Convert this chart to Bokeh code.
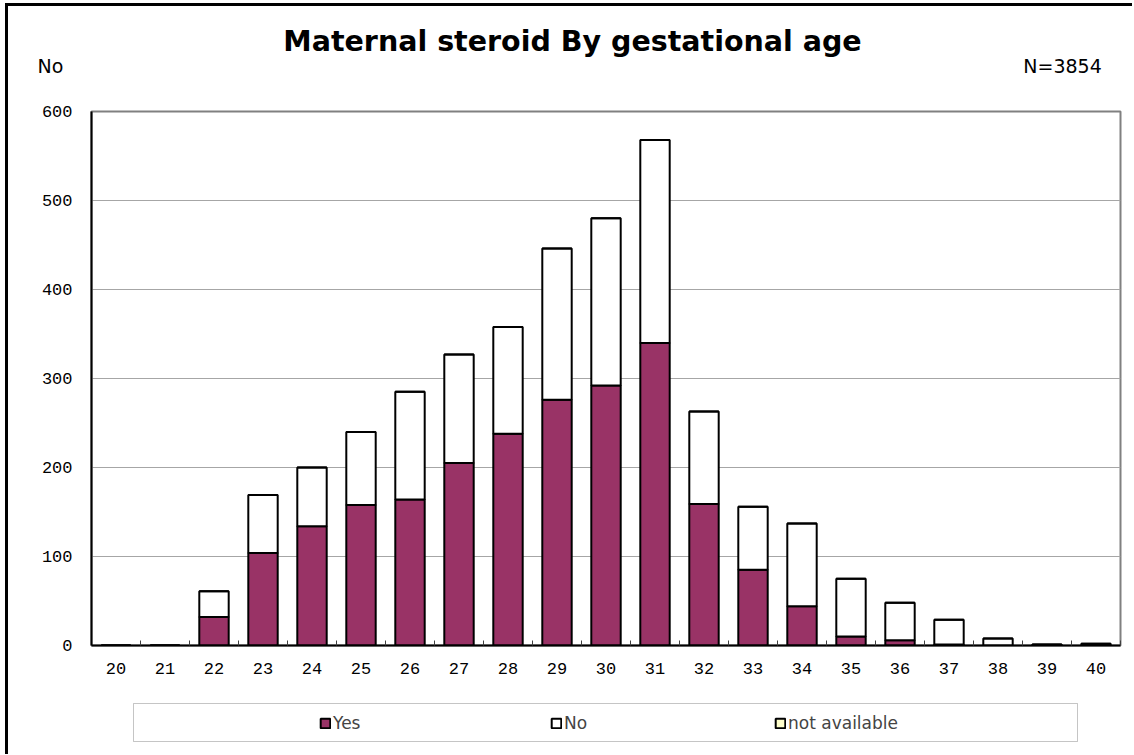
from bokeh.plotting import figure
from bokeh.layouts import column, row
from bokeh.models import (FixedTicker, Legend, LegendItem, Label, BoxAnnotation,
                          Range1d, ColumnDataSource)
from bokeh.embed import file_html
from bokeh.resources import INLINE

# ---- data ----
weeks = [20, 21, 22, 23, 24, 25, 26, 27, 28, 29, 30, 31, 32, 33, 34, 35, 36, 37, 38, 39, 40]
yes = [0, 0, 32, 104, 134, 158, 164, 205, 238, 276, 292, 340, 159, 85, 44, 10, 6, 1, 0, 0, 0]
no = [0, 0, 29, 65, 66, 82, 121, 122, 120, 170, 188, 228, 104, 71, 93, 65, 42, 28, 8, 1, 2]
not_available = [0] * 21
y_ticks = [0, 100, 200, 300, 400, 500, 600]
series_names = ["Yes", "No", "not available"]
series_colors = ["#993366", "#FFFFFF", "#FFFFCC"]
title_text = "Maternal steroid By gestational age"
n_text = "N=3854"
y_unit = "No"

CW = 1124                  # content width (inside the left border)
HH, MH, LH = 92, 587, 69   # header / main / legend heights

# ---------- header ----------
hdr = figure(width=CW, height=HH, x_range=Range1d(0, CW), y_range=Range1d(0, HH),
             output_backend="svg", toolbar_location=None, min_border=0,
             x_axis_location=None, y_axis_location=None)
hdr.grid.visible = False
hdr.outline_line_color = None
hdr.add_layout(Label(x=564, y=HH - 35, text=title_text, text_align="center",
                     text_baseline="middle", text_font="DejaVu Sans",
                     text_font_style="bold", text_font_size="28.5px", text_color="black"))
hdr.add_layout(Label(x=42, y=HH - 59, text=y_unit, text_align="center",
                     text_baseline="middle", text_font="DejaVu Sans",
                     text_font_size="19px", text_color="black"))
hdr.add_layout(Label(x=1054, y=HH - 59, text=n_text, text_align="center",
                     text_baseline="middle", text_font="DejaVu Sans",
                     text_font_size="19px", text_color="black"))

# ---------- main chart ----------
src = ColumnDataSource(dict(week=weeks, yes=yes, no=no, na=not_available))
p = figure(width=CW, height=MH, x_range=Range1d(19.5, 40.5), y_range=Range1d(0, 600),
           output_backend="svg", toolbar_location=None,
           min_border_left=83, min_border_right=12, min_border_top=13, min_border_bottom=40)
rs = p.vbar_stack(["yes", "no", "na"], x="week", width=0.6, source=src,
                  fill_color=series_colors, line_color="black", line_width=2)

p.xaxis.ticker = FixedTicker(ticks=weeks, minor_ticks=[w + 0.5 for w in range(19, 41)])
p.yaxis.ticker = FixedTicker(ticks=y_ticks)
for ax in (p.xaxis[0], p.yaxis[0]):
    ax.axis_line_color = "black"
    ax.axis_line_width = 2
    ax.major_tick_in = 0
    ax.major_tick_out = 0
    ax.major_label_text_font = "Liberation Mono"
    ax.major_label_text_font_size = "17px"
    ax.major_label_text_color = "black"
p.xaxis.minor_tick_in = 5
p.xaxis.minor_tick_out = 0
p.xaxis.minor_tick_line_color = "#404040"
p.xaxis.minor_tick_line_width = 1
p.yaxis.minor_tick_line_color = None
p.xaxis.major_label_standoff = 17
p.yaxis.major_label_standoff = 19
p.xgrid.grid_line_color = None
p.ygrid.grid_line_color = "#a6a6a6"
p.ygrid.grid_line_width = 1
p.outline_line_color = "#808080"
p.outline_line_width = 2

# ---------- legend ----------
lf = figure(width=CW, height=LH, x_range=Range1d(0, CW), y_range=Range1d(0, LH),
            output_backend="svg", toolbar_location=None, min_border=0,
            x_axis_location=None, y_axis_location=None)
lf.grid.visible = False
lf.outline_line_color = None
lf.add_layout(BoxAnnotation(left=125, right=1069, top=LH - 18, bottom=LH - 56,
                            fill_alpha=0, line_color="#404040", line_width=1))
# hidden copies of the series, only used to draw the legend swatches
ghost = lf.vbar_stack(["yes", "no", "na"], x="week", width=0.6, source=src,
                      fill_color=series_colors, line_color="black", line_width=2,
                      visible=False)

def make_legend(items, x, spacing):
    lg = Legend(items=items, orientation="horizontal", location=(x, 21),
                padding=0, margin=0, spacing=spacing, border_line_alpha=0,
                background_fill_alpha=0, glyph_width=12, glyph_height=12,
                label_height=12, label_width=40, label_standoff=2,
                inactive_fill_alpha=0,
                label_text_font="DejaVu Sans", label_text_font_size="17px",
                label_text_baseline="middle")
    lf.add_layout(lg, "center")

make_legend([LegendItem(label=series_names[0], renderers=[ghost[0]]),
             LegendItem(label=series_names[1], renderers=[ghost[1]])], 311, 177)
make_legend([LegendItem(label=series_names[2], renderers=[ghost[2]])], 766, 0)

layout = column(row(hdr), row(p), row(lf), spacing=0,
                styles={"margin-left": "5px", "margin-top": "3px",
                        "border-left": "3px solid black", "border-top": "3px solid black"})

open("out.html", "w").write(file_html(layout, INLINE))
